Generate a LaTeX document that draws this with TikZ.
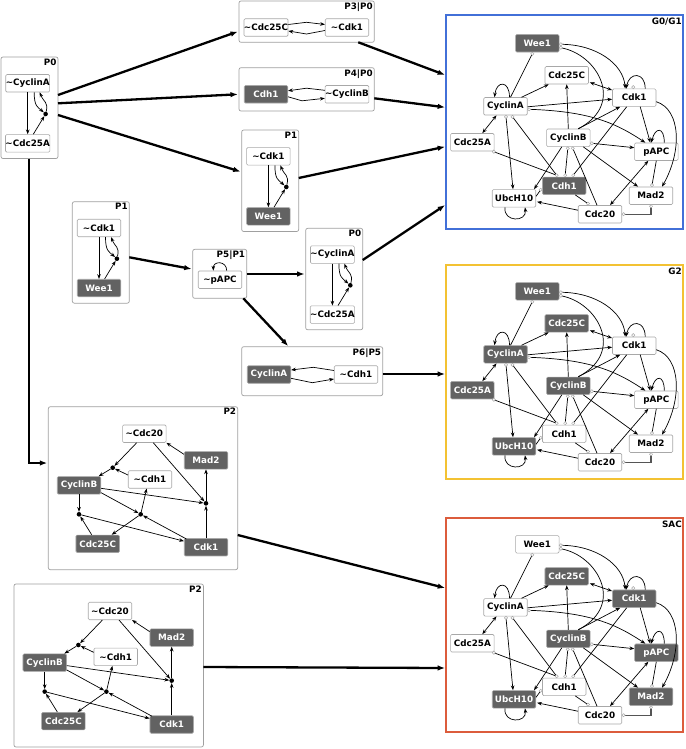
\documentclass[tikz,border=0pt]{standalone}
\usepackage{fontspec}
\setmainfont{DejaVu Sans}
\usetikzlibrary{arrows.meta,calc}
\definecolor{dkfill}{HTML}{626262}
\definecolor{ndline}{HTML}{A8A8A8}
\definecolor{boxline}{HTML}{A0A0A0}
\definecolor{blueC}{HTML}{4270D8}
\definecolor{yellowC}{HTML}{F3C233}
\definecolor{redC}{HTML}{DC5C3C}
\definecolor{elbow}{HTML}{555555}

\newcommand{\netw}[1]{%
\node[nd,fWee] (#1wee) at (91.3,29.3) {Wee1};
\node[nd,fCtfc] (#1c25c) at (120.7,61.3) {Cdc25C};
\node[nd,fCya] (#1cya) at (59.5,92.3) {CyclinA};
\node[nd,fCdk] (#1cdk) at (188.2,83.7) {Cdk1};
\node[nd,fCtfa] (#1c25a) at (26.3,128.2) {Cdc25A};
\node[nd,fCyb] (#1cyb) at (122.3,123.8) {CyclinB};
\node[nd,fPapc] (#1papc) at (210.3,137.7) {pAPC};
\node[nd,fCdh] (#1cdh) at (118.2,171.8) {Cdh1};
\node[nd,fUbc] (#1ubc) at (68,184.3) {UbcH10};
\node[nd,fMad] (#1mad) at (205,181.7) {Mad2};
\node[nd,fCtw] (#1c20) at (154,200.2) {Cdc20};
\draw[ar] ($(#1wee.east)+(1.5,1)$) node[port] (#1q1) {} .. controls +(35,0) and +(-2,-25) .. ($(#1cdk.north)+(-9,0)$);
\draw[edg] ($(#1wee.east)+(1.5,4.5)$) node[port] (#1q2) {} .. controls +(36,6) and +(48,-25) .. ($(#1cyb.north)+(10,0)$);
\draw[edg] ($(#1wee.south)+(-5,1.5)$) node[port] (#1q3) {} -- ($(#1cya.north)+(5,0)$);
\draw[ar] ($(#1cya.north)+(4,0)$) .. controls +(0,-17) and +(2,-17) .. ($(#1cya.north)+(-11,0)$);
\draw[ar] ($(#1cya.north)+(16,0)$) -- ($(#1c25c.south)+(-18,0)$);
\draw[ar] ($(#1cya.east)+(0,0.5)$) -- ($(#1cdk.west)+(0,1.5)$);
\draw[ar] ($(#1cya.east)+(1.5,3)$) node[port] (#1q4) {} .. controls +(60,2) and +(-30,-20) .. ($(#1papc.north)+(-11,0)$);
\draw[dar] ($(#1c25a.north)+(10,0)$) -- ($(#1cya.south)+(-9,0)$);
\draw[ar] ($(#1cya.south)+(0.5,1.5)$) node[port] (#1q5) {} -- ($(#1ubc.north)+(-1,0)$);
\draw[edg] ($(#1cya.south)+(7,1.5)$) node[port] (#1q6) {} -- ($(#1cdh.north)+(-7.5,-1.5)$);
\draw[edg] ($(#1c25a.south east)+(-0.5,0.5)$) node[port] (#1q7) {} -- ($(#1cdh.north)+(-7.5,-1.5)$) node[port] (#1q8) {};
\draw[ar] (#1cyb.north) -- (#1c25c.south);
\draw[dar] ($(#1c25c.south east)+(1,-2)$) -- ($(#1cdk.north west)+(0,1.5)$);
\draw[ar] ($(#1cdk.north)+(11,0)$) .. controls +(0,-17) and +(3,-17) .. ($(#1cdk.north)+(-8,0)$);
\path ($(#1cdk.north)+(-1,-1.5)$) node[port] (#1q9) {};
\draw[ar] ($(#1cyb.north)+(10,0)$) -- ($(#1cdk.south)+(-14,0)$);
\draw[ar] ($(#1cdk.south)+(6,0)$) -- ($(#1papc.north)+(-6,0)$);
\draw[ar] ($(#1cdk.east)+(0,4)$) .. controls +(25,8) and +(20,-35) .. ($(#1mad.north)+(11,0)$);
\draw[ar] ($(#1papc.north)+(8,0)$) .. controls +(0,-16) and +(4,-16) .. ($(#1papc.north)+(-5,0)$);
\draw[ar] ($(#1cyb.east)+(1.5,5.5)$) node[port] (#1q10) {} -- ($(#1papc.west)+(0,-4)$);
\draw[ar] ($(#1cyb.south)+(15,0)$) -- ($(#1mad.north)+(-13,0)$);
\draw[dar] ($(#1papc.south)+(-8,0)$) -- ($(#1c20.north)+(10,0)$);
\draw[edg] (#1papc.south) -- ($(#1mad.north)+(1,-1.5)$) node[port] (#1q11) {};
\draw[edg, line width=1.1pt, draw=elbow] ($(#1mad.south)+(0,1.5)$) node[port] (#1q12) {} |- ($(#1c20.east)+(1.5,0)$) node[port] (#1q13) {};
\draw[ar] ($(#1c20.west)+(0,-4)$) -- ($(#1ubc.east)+(1,3.5)$);
\draw[edg] ($(#1c20.north)+(-12,-1.5)$) node[port] (#1q14) {} -- ($(#1cdh.south)+(11,0)$);
\draw[ar] ($(#1cyb.south)+(-6.5,0)$) -- ($(#1ubc.north east)+(-2,0)$);
\draw[edg] ($(#1cyb.south)+(-0.5,1.5)$) node[port] (#1q15) {} -- ($(#1cdh.north)+(1,-1.5)$) node[port] (#1q16) {};
\draw[edg] ($(#1cyb.south)+(4.5,1.5)$) node[port] (#1q17) {} -- ($(#1c20.north)+(-3,0)$);
\draw[edg] ($(#1cdh.west)+(-1.5,4)$) node[port] (#1q18) {} -- ($(#1ubc.east)+(0,-2)$);
\draw[ar] ($(#1ubc.south)+(-9,0)$) .. controls +(-2,15) and +(2,15) .. ($(#1ubc.south)+(11,0)$);
\draw[edg] ($(#1cdk.south)+(-7.5,0)$) -- ($(#1cdh.north)+(9,-1.5)$) node[port] (#1q19) {};
}

\newcommand{\pbox}[7]{%
\begin{scope}[shift={(#2,#3)}]
\node[cont, minimum width=57pt, minimum height=101.5pt, anchor=north west] (#1box) at (0,0) {};
\node[lab] (#1lab) at (56.3,0.8) {#4};
\node[nd] (#1top) at (26.7,26.3) {#5};
\node[nd,#7] (#1bot) at (26.7,86.3) {#6};
\node[dot] (#1dot) at (44.6,57) {};
\draw[ar] (#1top.south) -- (#1bot.north);
\draw[ar] ($(#1top.south)+(6.5,0)$) .. controls +(0,14) and +(-8,-7) .. (#1dot);
\draw[ar] (#1dot) .. controls +(3,-12) and +(4,10) .. ($(#1top.south)+(12,0)$);
\draw[ar] ($(#1bot.north)+(5.6,0)$) -- (#1dot);
\end{scope}}

\newcommand{\ptwo}[3]{%
\begin{scope}[shift={(#2,#3)}]
\node[cont, minimum width=189.4pt, minimum height=163pt, anchor=north west] (#1box) at (0,0) {};
\node[lab] (#1lab) at (188.6,0.8) {P2};
\node[nd] (#1c20) at (96,27) {\textasciitilde Cdc20};
\node[nd,dk] (#1mad) at (157.7,53.6) {Mad2};
\node[nd] (#1cdh) at (101.7,72.8) {\textasciitilde Cdh1};
\node[nd,dk] (#1cyb) at (30.7,78.6) {CyclinB};
\node[nd,dk] (#1c25c) at (49.4,137.1) {Cdc25C};
\node[nd,dk] (#1cdk) at (157.7,140.5) {Cdk1};
\node[dot] (#1d1) at (64.4,61) {};
\node[dot] (#1d2) at (30.7,107.6) {};
\node[dot] (#1d3) at (92.4,107.6) {};
\node[dot] (#1d4) at (157.7,96.6) {};
\draw[ar] ($(#1c20.south)+(-7.6,0)$) -- (#1d1);
\draw[ar] ($(#1cdh.west)+(0,-4.5)$) -- (#1d1);
\draw[ar] (#1d1) -- ($(#1cyb.north east)+(-2.4,0)$);
\draw[ar] ($(#1c20.south)+(9,0)$) -- (#1d4);
\draw[ar] ($(#1mad.west)+(0,-6)$) -- (#1c20.south east);
\draw[ar] (#1d4) -- (#1mad.south);
\draw[ar] ($(#1cyb.east)+(0,3)$) -- (#1d4);
\draw[ar] (#1cdk.north) -- (#1d4);
\draw[ar] (#1cyb.south) -- (#1d2);
\draw[ar] ($(#1c25c.north)+(-6,0)$) -- (#1d2);
\draw[ar] (#1d2) -- ($(#1cdk.north west)+(0,3)$);
\draw[ar] ($(#1cyb.south east)+(0,-1.7)$) -- (#1d3);
\draw[ar] ($(#1cdk.north west)+(2.4,0.8)$) -- (#1d3);
\draw[ar] (#1d3) -- ($(#1cdh.south)+(-3.3,0)$);
\draw[ar] (#1d3) -- ($(#1c25c.north)+(14,0)$);
\end{scope}}

\begin{document}
\begin{tikzpicture}[x=1pt,y=-1pt,
 font=\fontsize{8.8}{10}\selectfont\bfseries,
 nd/.style={draw=ndline, fill=white, rounded corners=1.2pt, minimum width=43.5pt, minimum height=17.5pt, inner sep=0pt, line width=0.6pt, text=black},
 dk/.style={fill=dkfill, text=white},
 cont/.style={draw=boxline, fill=white, rounded corners=2pt, line width=0.7pt, inner sep=0pt, outer sep=0pt},
 lab/.style={anchor=north east, inner sep=0.6pt},
 dot/.style={circle, fill=black, inner sep=0pt, minimum size=4.6pt},
 port/.style={circle, draw=ndline, fill=white, inner sep=0pt, minimum size=3.2pt, line width=0.5pt},
 edg/.style={line width=0.7pt, draw=black},
 ar/.style={edg, -{Stealth[length=4.8pt,width=3.6pt]}},
 dar/.style={edg, {Stealth[length=4.8pt,width=3.6pt]}-{Stealth[length=4.8pt,width=3.6pt]}},
 big/.style={line width=2.3pt, -{Latex[length=7.5pt,width=5.5pt]}},
 netbox/.style={line width=1.6pt, inner sep=0pt, outer sep=0pt, anchor=north west, minimum width=237pt, minimum height=214pt},
 fWee/.style={}, fCtfc/.style={}, fCya/.style={}, fCdk/.style={}, fCtfa/.style={},
 fCyb/.style={}, fPapc/.style={}, fCdh/.style={}, fUbc/.style={}, fMad/.style={}, fCtw/.style={},
]
\useasboundingbox (0,0) rectangle (685,749);

% ---- small boxes
\pbox{pa}{1}{57}{P0}{\textasciitilde CyclinA}{\textasciitilde Cdc25A}{}
\pbox{pb}{241.7}{130}{P1}{\textasciitilde Cdk1}{Wee1}{dk}
\pbox{pc}{72.3}{201.7}{P1}{\textasciitilde Cdk1}{Wee1}{dk}
\pbox{pd}{305.7}{228.3}{P0}{\textasciitilde CyclinA}{\textasciitilde Cdc25A}{}
\ptwo{pe}{48.3}{406.7}
\ptwo{pf}{14}{584}

% P3|P0
\node[cont, minimum width=135.3pt, minimum height=41.3pt, anchor=north west] (p3box) at (239,1) {};
\node[lab] (p3lab) at (373.5,1.8) {P3|P0};
\node[nd] (p3a) at (266,27.5) {\textasciitilde Cdc25C};
\node[nd] (p3b) at (347,27.5) {\textasciitilde Cdk1};
\coordinate (p3m1) at (306.5,22.3);
\coordinate (p3m2) at (306.5,34);
\draw[ar] ($(p3a.east)+(0,-3)$) -- (p3m1) -- ($(p3b.west)+(0,-3)$);
\draw[ar] ($(p3b.west)+(0,3)$) -- (p3m2) -- ($(p3a.east)+(0,3.5)$);

% P4|P0
\node[cont, minimum width=135.3pt, minimum height=43.3pt, anchor=north west] (p4box) at (239,67.7) {};
\node[lab] (p4lab) at (373.5,68.5) {P4|P0};
\node[nd,dk] (p4a) at (266,94.3) {Cdh1};
\node[nd] (p4b) at (347,94.3) {\textasciitilde CyclinB};
\coordinate (p4m1) at (306.5,88.2);
\coordinate (p4m2) at (302,100.8);
\draw[ar] ($(p4b.west)+(0,-4)$) -- (p4m1) -- ($(p4a.east)+(0,-3.5)$);
\draw[ar] ($(p4a.east)+(0,2.5)$) -- (p4m2) -- ($(p4b.west)+(0,4)$);

% P5|P1
\node[cont, minimum width=54pt, minimum height=49pt, anchor=north west] (p5box) at (192.7,249.3) {};
\node[lab] (p5lab) at (245.9,250.1) {P5|P1};
\node[nd] (p5a) at (220,279.7) {\textasciitilde pAPC};
\draw[ar] ($(p5a.north)+(6.7,0)$) .. controls +(0,-10) and +(0,-10) .. ($(p5a.north)+(-6.7,0)$);

% P6|P5
\node[cont, minimum width=141pt, minimum height=49pt, anchor=north west] (p6box) at (241.7,346.7) {};
\node[lab] (p6lab) at (381.9,347.5) {P6|P5};
\node[nd,dk] (p6a) at (269,374.5) {CyclinA};
\node[nd] (p6b) at (356,374.5) {\textasciitilde Cdh1};
\coordinate (p6m1) at (313.3,367.3);
\coordinate (p6m2) at (312.3,382.7);
\draw[ar] ($(p6b.west)+(0,-4)$) -- (p6m1) -- ($(p6a.east)+(0,-4.5)$);
\draw[ar] ($(p6a.east)+(0,3.8)$) -- (p6m2) -- ($(p6b.west)+(0,4.5)$);

% ---- network boxes
\node[netbox, draw=blueC] (gabox) at (446,15) {};
\node[lab] (galab) at (682.5,17.5) {G0/G1};
\begin{scope}[shift={(446,14)}, fWee/.style=dk, fCdh/.style=dk]
\netw{ga}
\end{scope}

\node[netbox, draw=yellowC] (gbbox) at (446,265) {};
\node[lab] (gblab) at (682.5,267.5) {G2};
\begin{scope}[shift={(446,262)}, fWee/.style=dk, fCtfc/.style=dk, fCya/.style=dk, fCtfa/.style=dk, fCyb/.style=dk, fUbc/.style=dk]
\netw{gb}
\end{scope}

\node[netbox, draw=redC] (gcbox) at (446,518) {};
\node[lab] (gclab) at (682.5,520.5) {SAC};
\begin{scope}[shift={(446,515)}, fCtfc/.style=dk, fCdk/.style=dk, fCyb/.style=dk, fPapc/.style=dk, fUbc/.style=dk, fMad/.style=dk]
\netw{gc}
\end{scope}

% ---- big transitions
\draw[big] ($(pabox.north east)+(0,38)$) -- ($(p3box.north west)+(-1,30.5)$);
\draw[big] ($(pabox.north east)+(0,46.3)$) -- ($(p4box.north west)+(-1,26.6)$);
\draw[big] ($(pabox.north east)+(0,58)$) -- ($(pbbox.north west)+(-1,41.7)$);
\draw[big] ($(pabox.south west)+(28.3,0)$) |- ($(pebox.north west)+(-1,56.3)$);
\draw[big] ($(pcbox.north east)+(0,55.6)$) -- ($(p5box.north west)+(-1,19.7)$);
\draw[big] ($(p5box.north east)+(0,24.7)$) -- ($(pdbox.north west)+(-1,45.7)$);
\draw[big] ($(p5box.south east)+(-3.4,0)$) -- ($(p6box.north west)+(46.6,-0.5)$);
\draw[big] ($(p3box.south east)+(-16,0)$) -- ($(gabox.north west)+(-0.8,60)$);
\draw[big] ($(p4box.north east)+(0,30.6)$) -- ($(gabox.north west)+(-0.8,92.3)$);
\draw[big] ($(pbbox.north east)+(0,48)$) -- ($(gabox.north west)+(-0.8,131.7)$);
\draw[big] ($(pdbox.north east)+(0,31.7)$) -- ($(gabox.north west)+(-0.8,190)$);
\draw[big] ($(p6box.north east)+(0,27.3)$) -- ($(gbbox.north west)+(-0.8,109)$);
\draw[big] ($(pebox.north east)+(0,128.3)$) -- ($(gcbox.north west)+(-0.8,70)$);
\draw[big] ($(pfbox.north east)+(0,83)$) -- ($(gcbox.north west)+(-0.8,150)$);
\end{tikzpicture}
\end{document}
